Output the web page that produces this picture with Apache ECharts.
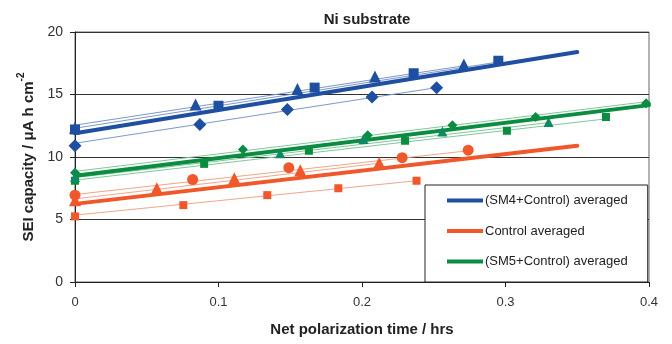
<!DOCTYPE html>
<html>
<head>
<meta charset="utf-8">
<script src="https://cdn.jsdelivr.net/npm/echarts@6/dist/echarts.min.js"></script>
<style>
  html, body { margin: 0; padding: 0; background: #fff; }
  #main { width: 672px; height: 344px; }
</style>
</head>
<body>
<div id="main"></div>
<script>
// values: [time (hrs), capacity]
var blueSquares = [[0, 12.2], [0.1, 14.1], [0.167, 15.55], [0.236, 16.7], [0.295, 17.7]];
var blueTriangles = [[0, 12.35], [0.084, 14.2], [0.155, 15.45], [0.209, 16.45], [0.271, 17.4]];
var blueDiamonds = [[0, 10.9], [0.087, 12.6], [0.148, 13.8], [0.207, 14.8], [0.252, 15.55]];

var greenSquares = [[0, 8.1], [0.09, 9.45], [0.163, 10.5], [0.23, 11.3], [0.301, 12.1], [0.37, 13.2]];
var greenDiamonds = [[0, 8.75], [0.117, 10.6], [0.204, 11.75], [0.263, 12.55], [0.321, 13.2], [0.398, 14.3]];
var greenTriangles = [[0, 8.4], [0.143, 10.3], [0.201, 11.45], [0.256, 12.05], [0.33, 12.8]];

var orangeSquares = [[0, 5.25], [0.0755, 6.15], [0.134, 6.95], [0.1835, 7.5], [0.238, 8.1]];
var orangeCircles = [[0, 6.95], [0.082, 8.2], [0.149, 9.15], [0.228, 9.95], [0.274, 10.55]];
var orangeTriangles = [[0, 6.55], [0.057, 7.5], [0.111, 8.3], [0.157, 8.95], [0.212, 9.55]];

// fitted lines (start and end)
var blueSquaresFit = [[0, 12.3], [0.295, 17.6]];
var blueTrianglesFit = [[0, 12.55], [0.271, 17.3]];
var blueDiamondsFit = [[0, 11.1], [0.252, 15.55]];
var greenSquaresFit = [[0, 8.15], [0.37, 13.05]];
var greenDiamondsFit = [[0, 8.85], [0.4, 14.45]];
var greenTrianglesFit = [[0, 8.35], [0.33, 12.75]];
var orangeSquaresFit = [[0, 5.35], [0.238, 8.1]];
var orangeCirclesFit = [[0, 7.0], [0.274, 10.5]];
var orangeTrianglesFit = [[0, 6.65], [0.212, 9.5]];

var blueAvg = [[0, 11.9], [0.35, 18.4]];
var orangeAvg = [[0, 6.25], [0.35, 10.9]];
var greenAvg = [[0, 8.5], [0.4, 14.15]];

var xTicks = [0, 0.1, 0.2, 0.3, 0.4];
var yTicks = [0, 5, 10, 15, 20];

var BLUE = '#1f4fa0', BLUE_T = '#7d98cc';
var ORANGE = '#f0572a', ORANGE_T = '#f5a48a';
var GREEN = '#0b8d41', GREEN_T = '#80c89c', TEAL = '#0e8a62';

var chart = echarts.init(document.getElementById('main'), null, { renderer: 'canvas' });

function pts(name, data, color, symbol, size) {
  return {
    name: name, type: 'scatter', data: data, symbol: symbol, symbolSize: size,
    itemStyle: { color: color, opacity: 1 }, z: 5, silent: true
  };
}
function fit(data, color) {
  return {
    type: 'line', data: data, symbol: 'none', silent: true, z: 2,
    lineStyle: { color: color, width: 1 }
  };
}
function avg(name, data, color) {
  return {
    name: name, type: 'line', data: data, symbol: 'none', silent: true, z: 3,
    itemStyle: { color: color },
    lineStyle: { color: color, width: 4, cap: 'round' }
  };
}

var option = {
  animation: false,
  backgroundColor: '#fff',
  textStyle: { fontFamily: 'Liberation Sans, Arial, sans-serif' },
  title: {
    text: 'Ni substrate',
    left: 362, top: 7, textAlign: 'center',
    textStyle: { fontSize: 15, fontWeight: 'bold', color: '#222' }
  },
  grid: {
    left: 75, right: 23, top: 32, bottom: 62,
    show: true, borderColor: '#666', borderWidth: 1
  },
  legend: {
    data: ['(SM4+Control) averaged', 'Control averaged', '(SM5+Control) averaged'],
    orient: 'vertical',
    left: 425, top: 185,
    padding: [9, 20, 14, 22],
    itemGap: 17.5,
    itemWidth: 36, itemHeight: 4,
    icon: 'rect',
    backgroundColor: '#fff',
    borderColor: '#222', borderWidth: 1,
    textStyle: { fontSize: 13, color: '#222', padding: [0, 0, 0, -3] }
  },
  xAxis: {
    type: 'value', min: 0, max: 0.4, interval: 0.1,
    name: 'Net polarization time / hrs',
    nameLocation: 'middle', nameGap: 40,
    nameTextStyle: { fontSize: 15, fontWeight: 'bold', color: '#222' },
    axisLine: { lineStyle: { color: '#222', width: 1 } },
    axisTick: { show: true, length: 5, lineStyle: { color: '#222' } },
    axisLabel: {
      fontSize: 13, color: '#333', margin: 14,
      formatter: function (v) { return xTicks.indexOf(Math.round(v * 10) / 10) >= 0 ? String(Math.round(v * 10) / 10) : ''; }
    },
    splitLine: { show: false }
  },
  yAxis: {
    type: 'value', min: 0, max: 20, interval: 5,
    name: '{a|SEI capacity / μA h cm}{s|-2}',
    nameLocation: 'middle', nameGap: 36, nameRotate: 90,
    nameTextStyle: {
      rich: {
        a: { fontSize: 15, fontWeight: 'bold', color: '#222', lineHeight: 20, verticalAlign: 'bottom' },
        s: { fontSize: 10, fontWeight: 'bold', color: '#222', lineHeight: 20, verticalAlign: 'top' }
      }
    },
    axisLine: { show: true, lineStyle: { color: '#222', width: 1 } },
    axisTick: { show: true, length: 5, lineStyle: { color: '#222' } },
    axisLabel: {
      fontSize: 14, color: '#333', margin: 12,
      formatter: function (v) { return yTicks.indexOf(v) >= 0 ? String(v) : ''; }
    },
    splitLine: { show: true, lineStyle: { color: '#333', width: 1 } }
  },
  series: [
    fit(blueSquaresFit, BLUE_T), fit(blueTrianglesFit, BLUE_T), fit(blueDiamondsFit, BLUE_T),
    fit(greenSquaresFit, GREEN_T), fit(greenDiamondsFit, GREEN_T), fit(greenTrianglesFit, GREEN_T),
    fit(orangeSquaresFit, ORANGE_T), fit(orangeCirclesFit, ORANGE_T), fit(orangeTrianglesFit, ORANGE_T),
    avg('(SM4+Control) averaged', blueAvg, BLUE),
    avg('Control averaged', orangeAvg, ORANGE),
    avg('(SM5+Control) averaged', greenAvg, GREEN),
    pts('bs', blueSquares, BLUE, 'rect', 10),
    pts('bt', blueTriangles, BLUE, 'triangle', 12),
    pts('bd', blueDiamonds, BLUE, 'diamond', 13),
    pts('gs', greenSquares, GREEN, 'rect', 8),
    pts('gd', greenDiamonds, GREEN, 'diamond', 10),
    pts('gt', greenTriangles, TEAL, 'triangle', 10),
    pts('os', orangeSquares, ORANGE, 'rect', 8),
    pts('oc', orangeCircles, ORANGE, 'circle', 11),
    pts('ot', orangeTriangles, ORANGE, 'triangle', 12)
  ]
};
chart.setOption(option);
</script>
</body>
</html>
